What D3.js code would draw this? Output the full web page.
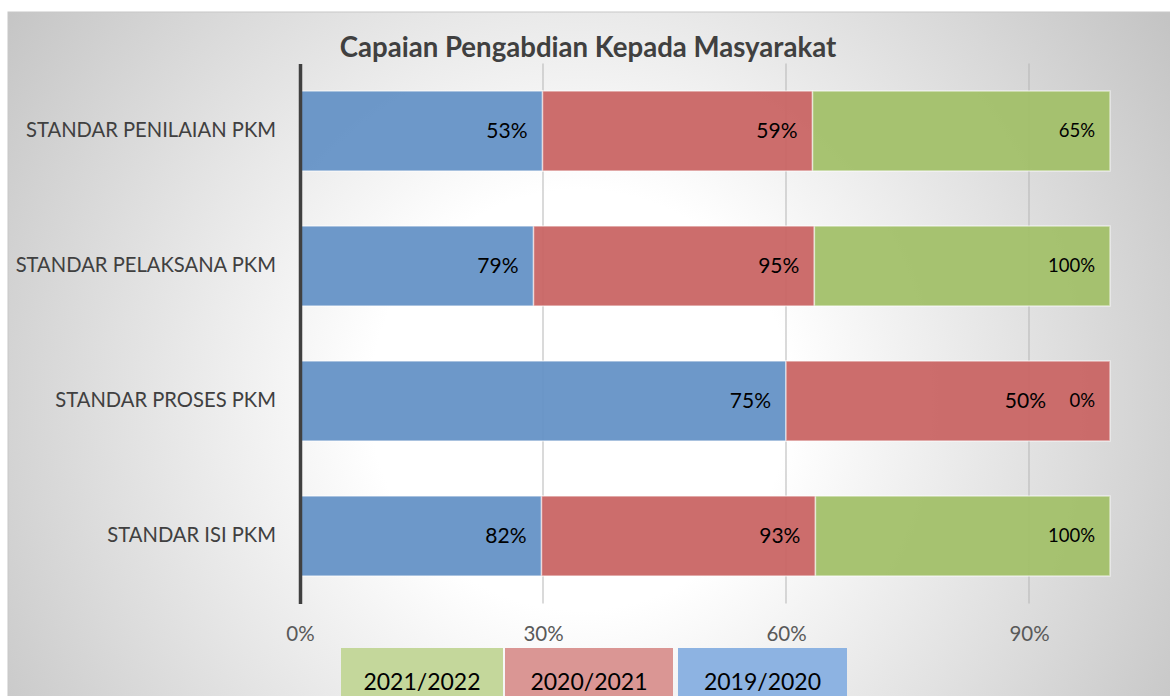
<!DOCTYPE html>
<html><head><meta charset="utf-8">
<script src="https://cdn.jsdelivr.net/npm/d3@7"></script>
<style>
html,body{margin:0;padding:0;background:#fff;}
svg{display:block;font-family:Lato,"Open Sans",sans-serif;}
</style></head>
<body><svg id="c" width="1170" height="696"></svg>
<script>
const categories = ["STANDAR PENILAIAN PKM","STANDAR PELAKSANA PKM","STANDAR PROSES PKM","STANDAR ISI PKM"];
const seriesNames = ["2019/2020","2020/2021","2021/2022"];
const values2019 = [53,79,75,82];
const values2020 = [59,95,50,93];
const values2021 = [65,100,0,100];
const xTickValues = [0,0.3,0.6,0.9];
const legendOrder = ["2021/2022","2020/2021","2019/2020"];
const title = "Capaian Pengabdian Kepada Masyarakat";

const barColors = {"2019/2020":"#6592c6","2020/2021":"#c96564","2021/2022":"#a2c069"};
const legendColors = {"2019/2020":"#8db3e2","2020/2021":"#da9694","2021/2022":"#c4d79b"};

const rows = categories.map((c,i)=>({cat:c,"2019/2020":values2019[i],"2020/2021":values2020[i],"2021/2022":values2021[i]}));

const svg = d3.select("#c");
const defs = svg.append("defs");
const rg = defs.append("radialGradient").attr("id","bg").attr("gradientUnits","userSpaceOnUse")
  .attr("cx",580).attr("cy",400).attr("r",700).attr("fx",580).attr("fy",400);
rg.append("stop").attr("offset","0").attr("stop-color","#ffffff");
rg.append("stop").attr("offset","0.3").attr("stop-color","#ffffff");
rg.append("stop").attr("offset","1").attr("stop-color","#c4c4c4");
svg.append("rect").attr("x",8).attr("y",12).attr("width",1170).attr("height",700)
  .attr("fill","url(#bg)").attr("stroke","#c8c8c8");

const x0 = 300, x1 = 1110;
const x = d3.scaleLinear().domain([0,1]).range([x0,x1]);
const y = d3.scaleBand().domain(categories).range([63.5,603.5]).paddingInner(55/135).paddingOuter(27.5/135);

// title
svg.append("text").attr("x",588).attr("y",57).attr("text-anchor","middle")
  .attr("font-size",27.6).attr("font-weight","bold").attr("fill","#404040").text(title);

// gridlines
svg.append("g").selectAll("line").data(xTickValues.filter(d=>d>0)).join("line")
  .attr("x1",d=>x(d)).attr("x2",d=>x(d)).attr("y1",63.5).attr("y2",603.5)
  .attr("stroke","#b5b5b5").attr("stroke-width",1);

// bars
const stack = d3.stack().keys(seriesNames).offset(d3.stackOffsetExpand);
const series = stack(rows);
const g = svg.append("g");
series.forEach(s=>{
  g.append("g").selectAll("rect").data(s).join("rect")
    .attr("x",d=>x(d[0])).attr("width",d=>Math.max(0,x(d[1])-x(d[0])))
    .attr("y",d=>y(d.data.cat)).attr("height",y.bandwidth())
    .attr("fill",barColors[s.key]).attr("fill-opacity",0.95)
    .attr("stroke","#ffffff").attr("stroke-opacity",0.55).attr("stroke-width",1.5);
});
// labels (shift left when the next segment is empty, so its 0% label stays readable)
series.forEach((s,si)=>{
  const small = s.key==="2021/2022";
  const next = series[si+1];
  g.append("g").selectAll("text").data(s).join("text")
    .attr("x",(d,i)=>{
      let xe = x(d[1]) - 15;
      if (next && next[i][1]-next[i][0]===0) xe -= 49;
      return xe;
    })
    .attr("y",d=>y(d.data.cat)+y.bandwidth()/2)
    .attr("dy","0.35em").attr("text-anchor","end")
    .attr("font-size",small?18.5:21).attr("fill","#000")
    .text(d=>d.data[s.key]+"%");
});

// y axis
const yAxis = svg.append("g").attr("transform",`translate(${x0},0)`)
  .call(d3.axisLeft(y).tickSize(0).tickPadding(24));
yAxis.select(".domain").attr("stroke","#404040").attr("stroke-width",3.5);
yAxis.selectAll("text").attr("font-size",20.2).attr("fill","#404040").attr("font-family","Lato");

// x axis labels
const xAxis = svg.append("g").attr("transform","translate(0,626)")
  .call(d3.axisBottom(x).tickValues(xTickValues).tickFormat(d3.format(".0%")).tickSize(0).tickPadding(0));
xAxis.select(".domain").remove();
xAxis.selectAll("text").attr("font-size",20.5).attr("fill","#595959").attr("font-family","Lato");

// legend
const legX = [341,505,678], legW=[162,168,169];
const lg = svg.append("g").selectAll("g").data(legendOrder).join("g")
  .attr("transform",(d,i)=>`translate(${legX[i]},648)`);
lg.append("rect").attr("width",(d,i)=>legW[i]).attr("height",60).attr("fill",d=>legendColors[d]);
lg.append("text").attr("x",(d,i)=>legW[i]/2).attr("y",42).attr("text-anchor","middle")
  .attr("font-size",23).attr("fill","#000").text(d=>d);
</script></body></html>
